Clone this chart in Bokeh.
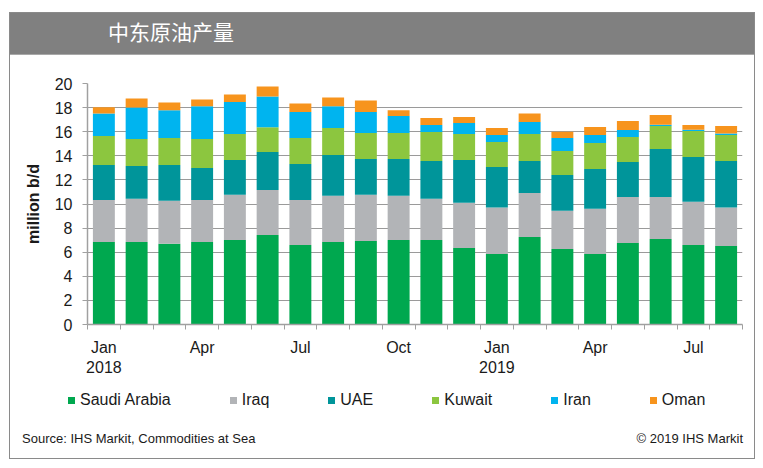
from bokeh.plotting import figure
from bokeh.layouts import column
from bokeh.models import ColumnDataSource, Range1d, FixedTicker, Div
from bokeh.embed import file_html
from bokeh.resources import INLINE

# ---------------- data (million b/d) ----------------
months = ["Jan 2018", "Feb 2018", "Mar 2018", "Apr 2018", "May 2018", "Jun 2018",
          "Jul 2018", "Aug 2018", "Sep 2018", "Oct 2018", "Nov 2018", "Dec 2018",
          "Jan 2019", "Feb 2019", "Mar 2019", "Apr 2019", "May 2019", "Jun 2019",
          "Jul 2019", "Aug 2019"]
saudi  = [6.84, 6.84, 6.70, 6.84, 7.01, 7.42, 6.59, 6.84, 6.92, 7.01,
          7.01, 6.34, 5.85, 7.26, 6.26, 5.85, 6.76, 7.09, 6.59, 6.51]
iraq   = [3.50, 3.59, 3.56, 3.50, 3.75, 3.75, 3.75, 3.84, 3.84, 3.67,
          3.42, 3.76, 3.86, 3.66, 3.17, 3.75, 3.83, 3.50, 3.59, 3.20]
uae    = [2.90, 2.73, 2.98, 2.65, 2.90, 3.15, 2.98, 3.39, 2.98, 3.06,
          3.14, 3.56, 3.37, 2.65, 2.98, 3.31, 2.90, 3.98, 3.72, 3.86]
kuwait = [2.40, 2.23, 2.24, 2.40, 2.15, 2.04, 2.16, 2.23, 2.15, 2.15,
          2.40, 2.15, 2.06, 2.24, 1.99, 2.15, 2.07, 1.90, 2.16, 2.15]
iran   = [1.88, 2.62, 2.31, 2.73, 2.65, 2.56, 2.15, 1.82, 1.74, 1.41,
          0.58, 0.91, 0.58, 0.99, 1.08, 0.66, 0.58, 0.11, 0.11, 0.14]
oman   = [0.50, 0.75, 0.64, 0.56, 0.63, 0.83, 0.71, 0.72, 0.96, 0.49,
          0.58, 0.49, 0.58, 0.72, 0.52, 0.67, 0.74, 0.80, 0.38, 0.61]

series_names = ["Saudi Arabia", "Iraq", "UAE", "Kuwait", "Iran", "Oman"]
series_values = [saudi, iraq, uae, kuwait, iran, oman]
colors = ["#00A84F", "#B2B4B7", "#00959A", "#8CC63F", "#00B4EF", "#F7941D"]
y_ticks = [0, 2, 4, 6, 8, 10, 12, 14, 16, 18, 20]
shown_months = ["Jan", "Apr", "Jul", "Oct"]

title_text = "中东原油产量"
y_label = "million b/d"
source_text = "Source: IHS Markit, Commodities at Sea"
copyright_text = "© 2019 IHS Markit"

TXT = "#1a1a1a"
FONT = "Liberation Sans"
BOX_W = 744

# ---------------- header ----------------
HEAD_H = 42
header = Div(text=('<div style="width:%dpx;height:%dpx;background:#808080;'
                   'border-bottom:1px solid #A8A8A8;box-sizing:border-box;'
                   'padding-left:98px;line-height:36px;color:white;'
                   'font-family:\'Noto Sans CJK SC\';font-size:21px;">%s</div>')
             % (BOX_W, HEAD_H, title_text),
             width=BOX_W, height=HEAD_H, margin=0)

# ---------------- main chart ----------------
FIG_H = 330
x = list(range(len(months)))
data = {"x": x}
for n, v in zip(series_names, series_values):
    data[n] = v
src = ColumnDataSource(data)

p = figure(width=BOX_W, height=FIG_H, output_backend="svg", toolbar_location=None,
           x_range=Range1d(-0.5, len(months) - 0.5), y_range=Range1d(0, 20),
           min_border_left=77, min_border_right=12, min_border_top=28,
           min_border_bottom=61, outline_line_color=None,
           background_fill_color="white", border_fill_color="white")

renderers = p.vbar_stack(series_names, x="x", width=0.67, source=src,
                         fill_color=colors, line_color=None)

ax_col = "#A0A0A0"
p.yaxis.ticker = FixedTicker(ticks=y_ticks)
p.yaxis.axis_line_color = ax_col
p.yaxis.axis_line_width = 1.5
p.yaxis.major_tick_line_color = ax_col
p.yaxis.major_tick_out = 5
p.yaxis.major_tick_in = 0
p.yaxis.minor_tick_line_color = None
p.yaxis.major_label_text_font = FONT
p.yaxis.major_label_text_font_size = "16px"
p.yaxis.major_label_text_color = TXT
p.yaxis.major_label_standoff = 10
p.yaxis.axis_label = y_label
p.yaxis.axis_label_text_font = FONT
p.yaxis.axis_label_text_font_size = "16px"
p.yaxis.axis_label_text_font_style = "bold"
p.yaxis.axis_label_text_color = TXT
p.yaxis.axis_label_standoff = 10

label_pos = []
overrides = {}
for i, m in enumerate(months):
    mon, yr = m.split()
    if mon in shown_months:
        label_pos.append(i)
        overrides[i] = mon + ("\n" + yr if mon == "Jan" else "")
bounds = [i - 0.5 for i in range(len(months) + 1)]
p.xaxis.ticker = FixedTicker(ticks=label_pos, minor_ticks=bounds)
p.xaxis.major_label_overrides = overrides
p.xaxis.axis_line_color = ax_col
p.xaxis.axis_line_width = 1.5
p.xaxis.major_tick_line_color = None
p.xaxis.minor_tick_line_color = ax_col
p.xaxis.minor_tick_out = 5
p.xaxis.minor_tick_in = 0
p.xaxis.major_label_text_font = FONT
p.xaxis.major_label_text_font_size = "16px"
p.xaxis.major_label_text_color = TXT
p.xaxis.major_label_standoff = 8

p.xgrid.grid_line_color = None
p.ygrid.ticker = FixedTicker(ticks=y_ticks)
p.ygrid.grid_line_color = "#9A9A9A"
p.ygrid.grid_line_width = 1

# ---------------- legend + footer (below the chart) ----------------
FOOT_H = 73
legend_items = "".join(
    '<span style="display:flex;align-items:center;">'
    '<span style="display:inline-block;width:7px;height:7px;background:%s;'
    'margin-right:5px;"></span>%s</span>' % (c, n)
    for n, c in zip(series_names, colors))
footer = Div(text=(
    '<div style="position:relative;width:%dpx;height:%dpx;font-family:\'%s\';color:%s;">'
    '<div style="position:absolute;left:58px;top:6px;height:18px;display:flex;'
    'gap:59px;align-items:center;font-size:16px;line-height:18px;white-space:nowrap;">%s</div>'
    '<div style="position:absolute;left:12px;top:46px;font-size:13px;line-height:16px;">%s</div>'
    '<div style="position:absolute;right:11px;top:46px;font-size:13px;line-height:16px;">%s</div>'
    '</div>') % (BOX_W, FOOT_H, FONT, TXT, legend_items, source_text, copyright_text),
    width=BOX_W, height=FOOT_H, margin=0)

layout = column(header, p, footer, margin=(13, 0, 0, 10), spacing=0,
                styles={"outline": "1px solid #8A8A8A", "background": "white"})

open("out.html", "w").write(file_html(layout, INLINE))
